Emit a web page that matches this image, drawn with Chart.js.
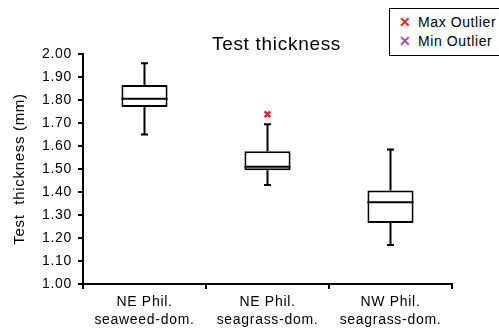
<!DOCTYPE html>
<html>
<head>
<meta charset="utf-8">
<script src="https://cdn.jsdelivr.net/npm/chart.js@4.4.1/dist/chart.umd.min.js"></script>
<style>
  html, body { margin: 0; padding: 0; background: #fff; overflow: hidden; }
  #wrap { position: relative; width: 499px; height: 334px; }
  #legend {
    position: absolute; left: 389px; top: 8px; width: 130px; height: 46px;
    border: 1.5px solid #000; background: #fff;
    font: 14px "Liberation Sans", Arial, sans-serif; letter-spacing: 0.6px; color: #000;
  }
  .item { position: absolute; left: 28px; }
  .mark { position: absolute; left: -19px; font-weight: bold; font-size: 14px; }
</style>
</head>
<body>
<div id="wrap">
  <canvas id="boxChart" width="499" height="334"></canvas>
  <div id="legend">
    <div class="item" style="top:5px"><span class="mark" style="color:#e8202a">&#x2715;</span>Max Outlier</div>
    <div class="item" style="top:24px"><span class="mark" style="color:#a050b0">&#x2715;</span>Min Outlier</div>
  </div>
</div>
<script>
const categories = [
  ["NE Phil.", "seaweed-dom."],
  ["NE Phil.", "seagrass-dom."],
  ["NW Phil.", "seagrass-dom."],
];
const whiskerLow = [1.65, 1.43, 1.17];
const q1 = [1.77, 1.495, 1.265];
const median = [1.805, 1.51, 1.355];
const q3 = [1.865, 1.577, 1.407];
const whiskerHigh = [1.96, 1.695, 1.585];
const maxOutlier = [null, 1.738, null];
const minOutlier = [null, null, null];
const yTicks = [1.0, 1.1, 1.2, 1.3, 1.4, 1.5, 1.6, 1.7, 1.8, 1.9, 2.0];

Chart.defaults.font.family = '"Liberation Sans", Arial, sans-serif';
Chart.defaults.color = "#000";

// whiskers, caps and median lines, drawn right after the boxes
const whiskerPlugin = {
  id: "whiskers",
  afterDatasetDraw(chart, args) {
    if (args.index !== 0) return;
    const ctx = chart.ctx;
    const x = chart.scales.x;
    const y = chart.scales.y;
    const meta = chart.getDatasetMeta(0);
    ctx.save();
    ctx.strokeStyle = "#000";
    ctx.lineWidth = 2;
    for (let i = 0; i < categories.length; i++) {
      const cx = x.getPixelForValue(i);
      const half = meta.data[i].width / 2;
      const cap = 3.5;
      ctx.beginPath();
      // upper whisker
      ctx.moveTo(cx, y.getPixelForValue(q3[i]));
      ctx.lineTo(cx, y.getPixelForValue(whiskerHigh[i]));
      ctx.moveTo(cx - cap, y.getPixelForValue(whiskerHigh[i]));
      ctx.lineTo(cx + cap, y.getPixelForValue(whiskerHigh[i]));
      // lower whisker
      ctx.moveTo(cx, y.getPixelForValue(q1[i]));
      ctx.lineTo(cx, y.getPixelForValue(whiskerLow[i]));
      ctx.moveTo(cx - cap, y.getPixelForValue(whiskerLow[i]));
      ctx.lineTo(cx + cap, y.getPixelForValue(whiskerLow[i]));
      // median
      ctx.moveTo(cx - half, y.getPixelForValue(median[i]));
      ctx.lineTo(cx + half, y.getPixelForValue(median[i]));
      ctx.stroke();
    }
    ctx.restore();
  },
};

// the reference text is a bit wider than Liberation Sans, so space it out
const titlePlugin = {
  id: "plotTitle",
  beforeDraw(chart) {
    chart.ctx.letterSpacing = "0.7px";
  },
  afterDraw(chart) {
    const ctx = chart.ctx;
    ctx.save();
    ctx.font = '19px "Liberation Sans", Arial, sans-serif';
    ctx.fillStyle = "#000";
    ctx.textAlign = "center";
    ctx.textBaseline = "alphabetic";
    ctx.fillText("Test thickness", (chart.chartArea.left + chart.chartArea.right) / 2 + 9, 50);
    ctx.restore();
  },
};

const ctx = document.getElementById("boxChart").getContext("2d");
const chart = new Chart(ctx, {
  type: "bar",
  data: {
    labels: categories,
    datasets: [
      {
        label: "Box",
        data: q1.map((v, i) => [v, q3[i]]),
        backgroundColor: "#fff",
        borderColor: "#000",
        borderWidth: 2,
        borderSkipped: false,
        categoryPercentage: 1,
        barPercentage: 0.375,
      },
      {
        type: "line",
        label: "Max Outlier",
        data: maxOutlier,
        showLine: false,
        pointStyle: "crossRot",
        pointRadius: 4,
        pointBorderWidth: 2.5,
        borderColor: "#e8202a",
        backgroundColor: "#e8202a",
      },
      {
        type: "line",
        label: "Min Outlier",
        data: minOutlier,
        showLine: false,
        pointStyle: "crossRot",
        pointRadius: 4,
        pointBorderWidth: 2.5,
        borderColor: "#a050b0",
        backgroundColor: "#a050b0",
      },
    ],
  },
  options: {
    responsive: false,
    animation: false,
    layout: { padding: { top: 54, right: 47, left: 0, bottom: 0 } },
    plugins: {
      legend: { display: false },
      tooltip: { enabled: false },
    },
    scales: {
      x: {
        grid: { display: true, drawOnChartArea: false, tickLength: 5, color: "#000", lineWidth: 2, offset: true },
        border: { color: "#000", width: 2 },
        ticks: { font: { size: 14, lineHeight: 1.3 }, padding: 4, maxRotation: 0, autoSkip: false },
        afterFit(scale) { scale.height = 50; },
      },
      y: {
        min: 1.0,
        max: 2.0,
        afterBuildTicks(scale) { scale.ticks = yTicks.map((v) => ({ value: v })); },
        grid: { display: true, drawOnChartArea: false, tickLength: 5, color: "#000", lineWidth: 2 },
        border: { color: "#000", width: 2 },
        ticks: { font: { size: 14 }, padding: 6, callback: (v) => Number(v).toFixed(2) },
        title: { display: true, text: "Test  thickness (mm)", font: { size: 15 }, padding: { top: 11, bottom: 0 } },
        afterFit(scale) { scale.width = 83; },
      },
    },
  },
  plugins: [whiskerPlugin, titlePlugin],
});
</script>
</body>
</html>
